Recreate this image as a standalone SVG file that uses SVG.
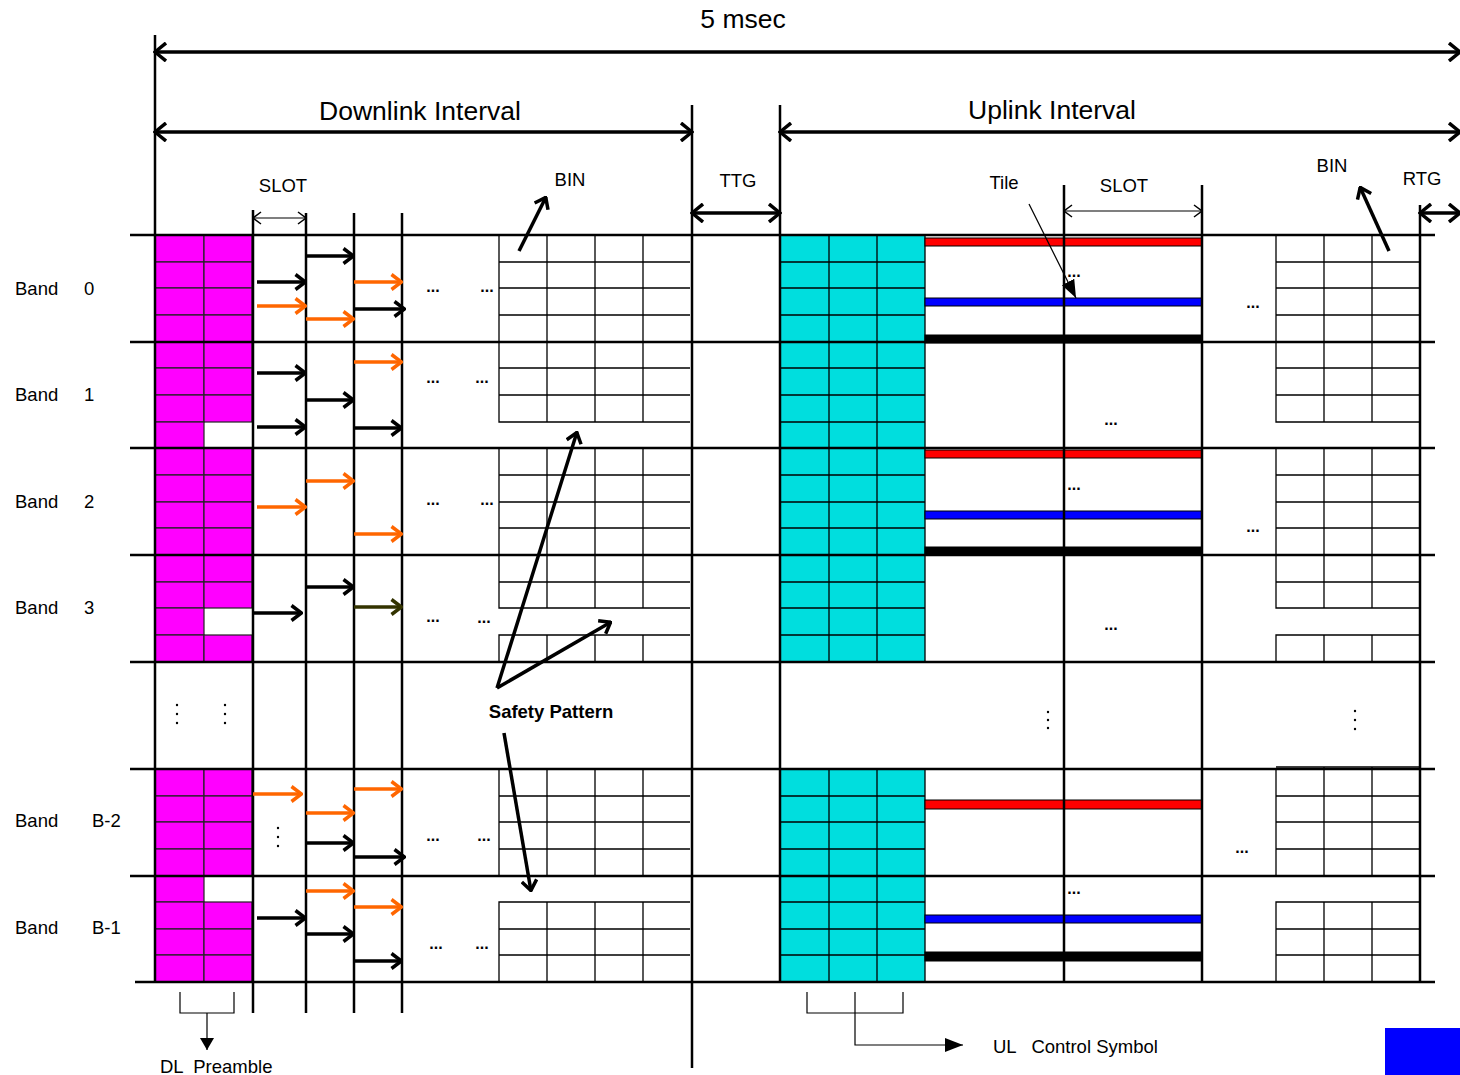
<svg xmlns="http://www.w3.org/2000/svg" width="1460" height="1075" viewBox="0 0 1460 1075">
<style>
text{font-family:"Liberation Sans",Arial,sans-serif;fill:#000}
.big{font-size:26.5px}
.lab{font-size:18.5px}
.dots{font-size:16px;font-weight:bold}
.main{stroke:#000;stroke-width:2.5;fill:none}
.grid{stroke:#000;stroke-width:1.3;fill:none}
.cellm{fill:#ff00ff;stroke:#222;stroke-width:1.2}
.ak{stroke:#000;stroke-width:3.5;fill:none;marker-end:url(#hk)}
.ao{stroke:#ff6600;stroke-width:3.5;fill:none;marker-end:url(#ho)}
.aol{stroke:#333300;stroke-width:3.5;fill:none;marker-end:url(#hol)}
.dim{stroke:#000;stroke-width:3.5;fill:none;marker-start:url(#hb);marker-end:url(#hb)}
.thin{stroke:#000;stroke-width:1.2;fill:none}
</style>
<defs>
<marker id="hk" viewBox="0 0 13 18" refX="12" refY="9" markerWidth="13" markerHeight="18" orient="auto-start-reverse" markerUnits="userSpaceOnUse"><path d="M1.5,1.5 L11.5,9 L1.5,16.5" fill="none" stroke="#000" stroke-width="3.5"/></marker>
<marker id="ho" viewBox="0 0 13 18" refX="12" refY="9" markerWidth="13" markerHeight="18" orient="auto-start-reverse" markerUnits="userSpaceOnUse"><path d="M1.5,1.5 L11.5,9 L1.5,16.5" fill="none" stroke="#ff6600" stroke-width="3.5"/></marker>
<marker id="hol" viewBox="0 0 13 18" refX="12" refY="9" markerWidth="13" markerHeight="18" orient="auto-start-reverse" markerUnits="userSpaceOnUse"><path d="M1.5,1.5 L11.5,9 L1.5,16.5" fill="none" stroke="#333300" stroke-width="3.5"/></marker>
<marker id="hb" viewBox="0 0 14 20" refX="12" refY="10" markerWidth="14" markerHeight="20" orient="auto-start-reverse" markerUnits="userSpaceOnUse"><path d="M1,1 L12,10 L1,19" fill="none" stroke="#000" stroke-width="3.5"/></marker>
<marker id="ht" viewBox="0 0 10 14" refX="9" refY="7" markerWidth="10" markerHeight="14" orient="auto-start-reverse" markerUnits="userSpaceOnUse"><path d="M1,1 L9,7 L1,13" fill="none" stroke="#000" stroke-width="1.5"/></marker>
<marker id="hf" viewBox="0 0 12 14" refX="12" refY="7" markerWidth="12" markerHeight="14" orient="auto" markerUnits="userSpaceOnUse"><path d="M0,0 L12,7 L0,14 Z" fill="#000"/></marker>
<marker id="hf2" viewBox="0 0 18 14" refX="18" refY="7" markerWidth="18" markerHeight="14" orient="auto" markerUnits="userSpaceOnUse"><path d="M0,0 L18,7 L0,14 Z" fill="#000"/></marker>
</defs>

<!-- DL preamble (magenta) -->
<g id="dl-preamble">
<g class="cellm">
<rect x="155" y="235" width="49" height="27"/><rect x="204" y="235" width="48" height="27"/>
<rect x="155" y="262" width="49" height="26"/><rect x="204" y="262" width="48" height="26"/>
<rect x="155" y="288" width="49" height="27"/><rect x="204" y="288" width="48" height="27"/>
<rect x="155" y="315" width="49" height="27"/><rect x="204" y="315" width="48" height="27"/>
<rect x="155" y="342" width="49" height="26"/><rect x="204" y="342" width="48" height="26"/>
<rect x="155" y="368" width="49" height="27"/><rect x="204" y="368" width="48" height="27"/>
<rect x="155" y="395" width="49" height="27"/><rect x="204" y="395" width="48" height="27"/>
<rect x="155" y="422" width="49" height="26"/>
<rect x="155" y="448" width="49" height="27"/><rect x="204" y="448" width="48" height="27"/>
<rect x="155" y="475" width="49" height="27"/><rect x="204" y="475" width="48" height="27"/>
<rect x="155" y="502" width="49" height="26"/><rect x="204" y="502" width="48" height="26"/>
<rect x="155" y="528" width="49" height="27"/><rect x="204" y="528" width="48" height="27"/>
<rect x="155" y="555" width="49" height="27"/><rect x="204" y="555" width="48" height="27"/>
<rect x="155" y="582" width="49" height="26"/><rect x="204" y="582" width="48" height="26"/>
<rect x="155" y="608" width="49" height="27"/>
<rect x="155" y="635" width="49" height="27"/><rect x="204" y="635" width="48" height="27"/>
<rect x="155" y="769" width="49" height="27"/><rect x="204" y="769" width="48" height="27"/>
<rect x="155" y="796" width="49" height="26"/><rect x="204" y="796" width="48" height="26"/>
<rect x="155" y="822" width="49" height="27"/><rect x="204" y="822" width="48" height="27"/>
<rect x="155" y="849" width="49" height="27"/><rect x="204" y="849" width="48" height="27"/>
<rect x="155" y="876" width="49" height="26"/>
<rect x="155" y="902" width="49" height="27"/><rect x="204" y="902" width="48" height="27"/>
<rect x="155" y="929" width="49" height="26"/><rect x="204" y="929" width="48" height="26"/>
<rect x="155" y="955" width="49" height="27"/><rect x="204" y="955" width="48" height="27"/>
</g>
</g>

<!-- UL control symbols (cyan) -->
<g id="ul-control">
<rect x="780" y="235" width="145" height="427" fill="#00dede"/>
<rect x="780" y="769" width="145" height="213" fill="#00dede"/>
<path class="grid" stroke="#123" d="M829,235V662M877,235V662M925,235V662M829,769V982M877,769V982M925,769V982
M780,262H925M780,288H925M780,315H925M780,368H925M780,395H925M780,422H925M780,475H925M780,502H925M780,528H925M780,582H925M780,608H925M780,635H925
M780,796H925M780,822H925M780,849H925M780,902H925M780,929H925M780,955H925"/>
</g>

<!-- DL BIN grids -->
<g id="dl-bins" class="grid">
<path d="M499,235V422H690M499,262H690M499,288H690M499,315H690M499,342H690M499,368H690M499,395H690M547,235V422M595,235V422M643,235V422"/>
<path d="M499,448V608H690M499,448H690M499,475H690M499,502H690M499,528H690M499,555H690M499,582H690M547,448V608M595,448V608M643,448V608"/>
<path d="M499,662V635H690M547,635V662M595,635V662M643,635V662"/>
<path d="M499,769V876M499,769H690M499,796H690M499,822H690M499,849H690M547,769V876M595,769V876M643,769V876"/>
<path d="M499,982V902H690M499,929H690M499,955H690M547,902V982M595,902V982M643,902V982"/>
</g>

<!-- UL BIN grids -->
<g id="ul-bins" class="grid">
<path d="M1276,235V422H1420M1276,262H1420M1276,288H1420M1276,315H1420M1276,342H1420M1276,368H1420M1276,395H1420M1324,235V422M1372,235V422"/>
<path d="M1276,448V608H1420M1276,475H1420M1276,502H1420M1276,528H1420M1276,582H1420M1324,448V608M1372,448V608"/>
<path d="M1276,662V635H1420M1324,635V662M1372,635V662"/>
<path d="M1276,769V876M1276,767H1420M1276,796H1420M1276,822H1420M1276,849H1420M1324,767V876M1372,767V876"/>
<path d="M1276,982V902H1420M1276,929H1420M1276,955H1420M1324,902V982M1372,902V982"/>
</g>

<!-- UL tiles (colored bars) -->
<g id="ul-tiles" stroke="#000" stroke-width="1">
<rect x="925" y="238" width="277" height="8" fill="#ff0000"/>
<rect x="925" y="298" width="277" height="8" fill="#0000ff"/>
<rect x="925" y="335" width="277" height="8" fill="#000"/>
<rect x="925" y="450" width="277" height="8" fill="#ff0000"/>
<rect x="925" y="511" width="277" height="8" fill="#0000ff"/>
<rect x="925" y="547" width="277" height="8" fill="#000"/>
<rect x="925" y="800" width="277" height="9" fill="#ff0000"/>
<rect x="925" y="915" width="277" height="8" fill="#0000ff"/>
<rect x="925" y="952" width="277" height="9" fill="#000"/>
</g>

<!-- main frame lines -->
<g id="frame" class="main">
<path d="M130,235H1435M130,342H1435M130,448H1435M130,555H1435M130,662H1435M130,769H1435M130,876H1435M135,982H1435"/>
<path d="M155,35V982M253,210V1013M306,213V1013M354,213V1013M402,213V1013M692,105V1068M780,105V982M1064,185V982M1202,185V982M1420,205V982"/>
</g>

<!-- labels -->
<g id="labels">
<text class="big" x="743" y="28" text-anchor="middle">5 msec</text>
<text class="big" x="420" y="120" text-anchor="middle">Downlink Interval</text>
<text class="big" x="1052" y="119" text-anchor="middle">Uplink Interval</text>
<text class="lab" x="283" y="192" text-anchor="middle">SLOT</text>
<text class="lab" x="570" y="186" text-anchor="middle">BIN</text>
<text class="lab" x="738" y="187" text-anchor="middle">TTG</text>
<text class="lab" x="1004" y="189" text-anchor="middle">Tile</text>
<text class="lab" x="1124" y="192" text-anchor="middle">SLOT</text>
<text class="lab" x="1332" y="172" text-anchor="middle">BIN</text>
<text class="lab" x="1422" y="185" text-anchor="middle">RTG</text>
<text class="lab" x="15" y="295">Band</text><text class="lab" x="84" y="295">0</text>
<text class="lab" x="15" y="401">Band</text><text class="lab" x="84" y="401">1</text>
<text class="lab" x="15" y="508">Band</text><text class="lab" x="84" y="508">2</text>
<text class="lab" x="15" y="614">Band</text><text class="lab" x="84" y="614">3</text>
<text class="lab" x="15" y="827">Band</text><text class="lab" x="92" y="827">B-2</text>
<text class="lab" x="15" y="934">Band</text><text class="lab" x="92" y="934">B-1</text>
<text class="lab" x="551" y="718" text-anchor="middle" font-weight="bold">Safety Pattern</text>
<text class="lab" x="160" y="1073" xml:space="preserve">DL  Preamble</text>
<text class="lab" x="993" y="1053" xml:space="preserve">UL   Control Symbol</text>
</g>

<!-- ellipses -->
<g id="ellipses" class="dots" text-anchor="middle">
<text x="433" y="292">...</text><text x="487" y="292">...</text>
<text x="433" y="383">...</text><text x="482" y="383">...</text>
<text x="433" y="505">...</text><text x="487" y="505">...</text>
<text x="433" y="622">...</text><text x="484" y="623">...</text>
<text x="433" y="841">...</text><text x="484" y="841">...</text>
<text x="436" y="949">...</text><text x="482" y="949">...</text>
<text x="1074" y="277">...</text><text x="1253" y="308">...</text>
<text x="1111" y="425">...</text>
<text x="1074" y="490">...</text><text x="1253" y="532">...</text>
<text x="1111" y="630">...</text>
<text x="1242" y="853">...</text>
<text x="1074" y="894">...</text>
</g>
<g id="vdots" fill="#000">
<circle cx="177" cy="705" r="1.2"/><circle cx="177" cy="714" r="1.2"/><circle cx="177" cy="723" r="1.2"/>
<circle cx="225" cy="705" r="1.2"/><circle cx="225" cy="714" r="1.2"/><circle cx="225" cy="723" r="1.2"/>
<circle cx="278" cy="828" r="1.2"/><circle cx="278" cy="837" r="1.2"/><circle cx="278" cy="846" r="1.2"/>
<circle cx="1048" cy="712" r="1.2"/><circle cx="1048" cy="720" r="1.2"/><circle cx="1048" cy="728" r="1.2"/>
<circle cx="1355" cy="711" r="1.2"/><circle cx="1355" cy="720" r="1.2"/><circle cx="1355" cy="729" r="1.2"/>
</g>

<!-- connectors -->
<g id="connectors">
<line class="dim" x1="155" y1="52" x2="1460" y2="52"/>
<line class="dim" x1="155" y1="132" x2="692" y2="132"/>
<line class="dim" x1="780" y1="132" x2="1460" y2="132"/>
<line class="dim" x1="692" y1="213" x2="780" y2="213"/>
<line class="dim" x1="1420" y1="213" x2="1460" y2="213"/>
<line class="thin" x1="253" y1="218" x2="306" y2="218" marker-start="url(#ht)" marker-end="url(#ht)"/>
<line class="thin" x1="1064" y1="211" x2="1202" y2="211" marker-start="url(#ht)" marker-end="url(#ht)"/>
<line class="ak" x1="519" y1="251" x2="546" y2="197"/>
<line class="ak" x1="1389" y1="251" x2="1360" y2="187"/>
<line class="thin" x1="1029" y1="204" x2="1076" y2="298" marker-end="url(#hf2)"/>
<line class="ak" x1="497" y1="688" x2="577" y2="432"/>
<line class="ak" x1="497" y1="688" x2="611" y2="622"/>
<line class="ak" x1="504" y1="733" x2="531" y2="891"/>
<!-- band 0 -->
<line class="ak" x1="306" y1="256" x2="354" y2="256"/>
<line class="ak" x1="257" y1="282" x2="306" y2="282"/>
<line class="ao" x1="257" y1="306" x2="306" y2="306"/>
<line class="ao" x1="354" y1="282" x2="402" y2="282"/>
<line class="ao" x1="306" y1="319" x2="354" y2="319"/>
<line class="ak" x1="354" y1="309" x2="405" y2="309"/>
<!-- band 1 -->
<line class="ao" x1="354" y1="362" x2="402" y2="362"/>
<line class="ak" x1="257" y1="373" x2="306" y2="373"/>
<line class="ak" x1="306" y1="400" x2="354" y2="400"/>
<line class="ak" x1="257" y1="427" x2="306" y2="427"/>
<line class="ak" x1="354" y1="428" x2="402" y2="428"/>
<!-- band 2 -->
<line class="ao" x1="306" y1="481" x2="354" y2="481"/>
<line class="ao" x1="257" y1="507" x2="306" y2="507"/>
<line class="ao" x1="354" y1="534" x2="402" y2="534"/>
<!-- band 3 -->
<line class="ak" x1="306" y1="587" x2="354" y2="587"/>
<line class="ak" x1="253" y1="613" x2="302" y2="613"/>
<line class="aol" x1="354" y1="607" x2="402" y2="607"/>
<!-- band B-2 -->
<line class="ao" x1="253" y1="794" x2="302" y2="794"/>
<line class="ao" x1="354" y1="789" x2="402" y2="789"/>
<line class="ao" x1="306" y1="813" x2="354" y2="813"/>
<line class="ak" x1="306" y1="843" x2="354" y2="843"/>
<line class="ak" x1="354" y1="857" x2="405" y2="857"/>
<!-- band B-1 -->
<line class="ao" x1="306" y1="891" x2="354" y2="891"/>
<line class="ao" x1="354" y1="907" x2="402" y2="907"/>
<line class="ak" x1="257" y1="918" x2="306" y2="918"/>
<line class="ak" x1="306" y1="934" x2="354" y2="934"/>
<line class="ak" x1="354" y1="961" x2="402" y2="961"/>
<!-- brackets -->
<path class="thin" d="M180,992V1013H234V992M207,1013V1050" marker-end="url(#hf)"/>
<path class="thin" d="M807,992V1013H903V992M855,992V1045H963" marker-end="url(#hf2)"/>
</g>

<rect id="legend-blue" x="1385" y="1028" width="75" height="47" fill="#0000ff"/>
</svg>
